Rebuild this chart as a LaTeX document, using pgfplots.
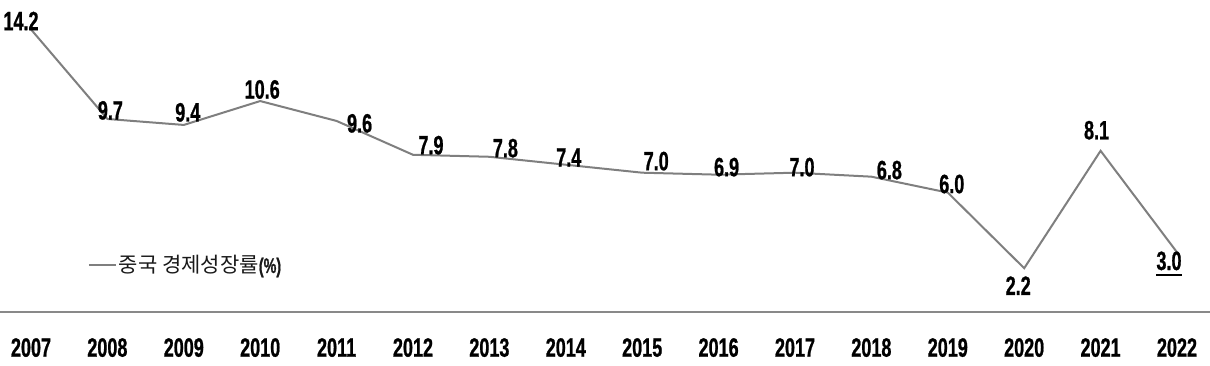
\documentclass[border=0pt]{standalone}
\usepackage{pgfplots}
\pgfplotsset{compat=1.18}
\usepackage{fontspec}
\setmainfont{Liberation Sans}
\newfontfamily\cond[FakeStretch=0.68, FakeBold=0.8]{Liberation Sans}
\newfontfamily\kr{Noto Sans CJK KR}
\definecolor{lineg}{RGB}{127,127,127}
\definecolor{axisg}{RGB}{137,137,137}
\newcommand\myunder[1]{\setbox0\hbox{#1}\rlap{\rule[-5.5pt]{\wd0}{1.6pt}}\box0}
% label: x, y, anchor, xshift, yshift, text
\newcommand\lab[6]{\addplot[draw=none, mark=none, forget plot, point meta=y,
  nodes near coords={\cond\bfseries\fontsize{26.5}{28}\selectfont #6},
  every node near coord/.append style={anchor=#3, xshift=#4pt, yshift=#5pt, inner sep=0pt, text=black}]
  coordinates {(#1,#2)};}

\begin{document}
\begin{tikzpicture}
\begin{axis}[
  scale only axis,
  width=1210pt, height=312pt,
  xmin=-0.4058, xmax=15.432,
  ymin=0, ymax=15.678,
  axis x line=bottom,
  axis y line=none,
  axis line style={-, axisg, line width=1.5pt},
  xtick={0,...,15},
  xticklabels={2007,2008,2009,2010,2011,2012,2013,2014,2015,2016,2017,2018,2019,2020,2021,2022},
  xtick style={draw=none},
  major tick length=0pt,
  ytick=\empty,
  x tick label style={font=\cond\bfseries\fontsize{26.5}{28}\selectfont, anchor=north, inner sep=0pt, yshift=-26pt, text=black},
  clip=false,
  legend style={at={(rel axis cs:0.0727,0.1506)}, anchor=west, draw=none, fill=none, inner sep=0pt, outer sep=0pt,
    nodes={inner sep=2pt, text=black!90}},
  legend cell align=left,
]
\addplot[lineg, line width=2pt, mark=none,
  legend image code/.code={\draw[lineg, line width=2pt] (0pt,0pt) -- (27pt,0pt);}]
  coordinates {(0,14.2) (1,9.7) (2,9.4) (3,10.6) (4,9.6) (5,7.9) (6,7.8) (7,7.4)
               (8,7.0) (9,6.9) (10,7.0) (11,6.8) (12,6.0) (13,2.2) (14,8.1) (15,3.0)};
\addlegendentry{{\kr\fontsize{21}{23}\selectfont 중국 경제성장률}{\cond\bfseries\fontsize{21}{23}\selectfont(\%)}}
\lab{0}{14.2}{south}{-10}{-1}{14.2}
\lab{1}{9.7}{south}{3}{-1}{9.7}
\lab{2}{9.4}{south}{4}{3}{9.4}
\lab{3}{10.6}{south}{2}{2}{10.6}
\lab{4}{9.6}{south}{23}{-12}{9.6}
\lab{5}{7.9}{south}{18}{0}{7.9}
\lab{6}{7.8}{south}{16}{-1}{7.8}
\lab{7}{7.4}{south}{3}{-2}{7.4}
\lab{8}{7.0}{south}{14}{2}{7.0}
\lab{9}{6.9}{south}{8}{-2}{6.9}
\lab{10}{7.0}{south}{7}{-4}{7.0}
\lab{11}{6.8}{south}{18}{-3}{6.8}
\lab{12}{6.0}{south}{4}{-1}{6.0}
\lab{13}{2.2}{north}{-6}{-8}{2.2}
\lab{14}{8.1}{south}{-4}{11}{8.1}
\lab{15}{3.0}{north}{-8}{1}{\myunder{3.0}}
\coordinate (bl) at (rel axis cs:0,0);
\coordinate (tr) at (rel axis cs:1,1);
\end{axis}
\pgfresetboundingbox
\path (bl) ++(0,-53pt) rectangle (tr);
\end{tikzpicture}
\end{document}
